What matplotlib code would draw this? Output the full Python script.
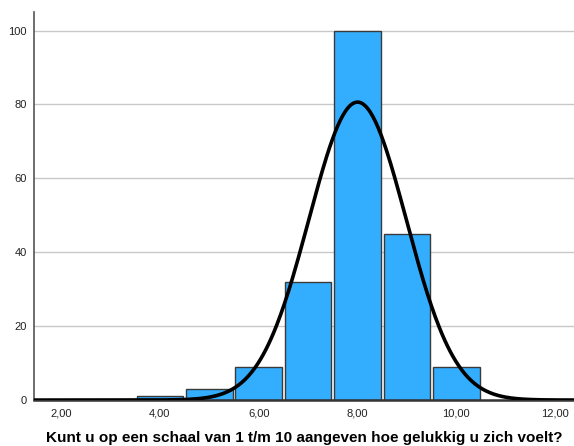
import numpy as np
import matplotlib.pyplot as plt

# waarden en frequenties (histogram)
waarden = [4, 5, 6, 7, 8, 9, 10]
frequenties = [1, 3, 9, 32, 100, 45, 9]
x_ticks = [2, 4, 6, 8, 10, 12]
x_labels = ['2,00', '4,00', '6,00', '8,00', '10,00', '12,00']
y_ticks = [0, 20, 40, 60, 80, 100]

plt.rcParams['font.family'] = ['Liberation Sans', 'DejaVu Sans']

fig = plt.figure(figsize=(5.74, 4.46), dpi=100)
ax = fig.add_axes([0.059, 0.103, 0.941, 0.870])

ax.bar(waarden, frequenties, width=0.94, color='#33AEFF', edgecolor='#3a3a3a',
       linewidth=1.0, zorder=2)

# normaalcurve op basis van de data
w = np.array(waarden, dtype=float)
f = np.array(frequenties, dtype=float)
n = f.sum()
gem = (w * f).sum() / n
sd = np.sqrt(((w - gem) ** 2 * f).sum() / (n - 1))
xs = np.linspace(1.45, 12.4, 400)
ys = n * 1.0 / (sd * np.sqrt(2 * np.pi)) * np.exp(-0.5 * ((xs - gem) / sd) ** 2)
ax.plot(xs, ys, color='black', linewidth=2.6, zorder=3)

ax.set_xlim(1.45, 12.38)
ax.set_ylim(0, 105)
ax.set_xticks(x_ticks)
ax.set_xticklabels(x_labels)
ax.set_yticks(y_ticks)
ax.tick_params(length=0, labelsize=8, colors='#222222')
ax.tick_params(axis='x', pad=6)
ax.tick_params(axis='y', pad=5)
ax.yaxis.grid(True, color='#c8c8c8', linewidth=1.0, zorder=0)
ax.set_axisbelow(True)

for s in ['top', 'right']:
    ax.spines[s].set_visible(False)
ax.spines['left'].set_color('#555555')
ax.spines['left'].set_linewidth(1.2)
ax.spines['bottom'].set_color('#333333')
ax.spines['bottom'].set_linewidth(1.8)

ax.set_xlabel('Kunt u op een schaal van 1 t/m 10 aangeven hoe gelukkig u zich voelt?',
              fontsize=11, fontweight='bold', labelpad=9)

fig.savefig('out.png', dpi=100)
